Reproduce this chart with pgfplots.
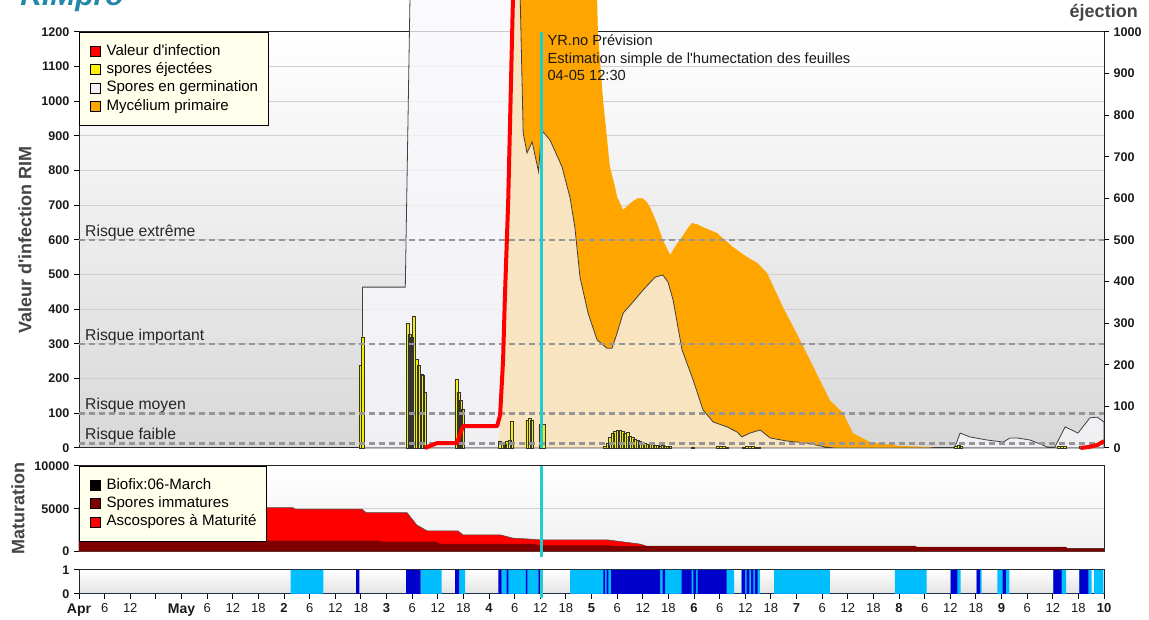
\documentclass[border=0pt]{standalone}
\usepackage{fontspec}
\setmainfont{Liberation Sans}
\usepackage{pgfplots}
\pgfplotsset{compat=1.18}
\definecolor{legbg}{RGB}{255,255,236}
\definecolor{germfill}{RGB}{248,247,252}
\definecolor{myc}{RGB}{255,165,0}
\definecolor{cyanline}{RGB}{32,204,204}
\definecolor{darkred}{RGB}{128,0,0}
\definecolor{lblue}{RGB}{0,191,255}
\definecolor{dblue}{RGB}{0,0,205}
\definecolor{risk}{RGB}{150,150,150}
\definecolor{gridc}{RGB}{208,208,208}
\definecolor{logo}{RGB}{38,134,170}
\definecolor{labc}{RGB}{68,68,68}
\definecolor{tickc}{RGB}{26,26,26}
\definecolor{bgbot}{RGB}{216,216,216}
\definecolor{bgbotb}{RGB}{240,240,240}
\definecolor{bgbotc}{RGB}{226,226,226}
\definecolor{baryel}{RGB}{240,240,0}
\newcommand{\q}{\textquotesingle}
\tikzset{
  risklab/.style={anchor=base west, inner sep=0pt, font=\fontsize{11.8}{12}\selectfont, text=black!85},
  infolab/.style={anchor=base west, inner sep=0pt, font=\fontsize{11}{12}\selectfont, text=black!90},
}
\pgfplotsset{
  layers/mylayers/.define layer set={axis background,axis grid,main,axis ticks,axis lines,axis tick labels,axis descriptions,axis foreground}{},
  mybase/.style={scale only axis, width=768.75pt, anchor=south west, xmin=0, xmax=240,
    tick align=outside, major tick length=3.75pt, tick style={black, line width=0.75pt},
    axis line style={black!85, line width=0.75pt},
    /pgf/number format/assume math mode=true, /pgf/number format/1000 sep={}, scaled ticks=false,
    yticklabel style={font=\bfseries\fontsize{9.4}{10}\selectfont, text=tickc},
    major grid style={gridc, line width=0.75pt}},
  mylegend/.style={legend style={at={(0,1)}, anchor=north west, draw=black, line width=0.75pt, fill=legbg,
      inner xsep=7.7pt, inner ysep=8.9pt, row sep=3pt, font=\fontsize{11.3}{12}\selectfont,
      nodes={inner sep=0pt, text height=8.3pt, text depth=2.4pt}, cells={anchor=west},
      /tikz/every odd column/.style={column sep=4.5pt}},
    legend image code/.code={\draw[##1] (0pt,-3.75pt) rectangle (7.5pt,3.75pt);}},
  riskline/.style={color=risk, line width=1.8pt, dash pattern=on 4.5pt off 3pt, forget plot},
}
\begin{document}
\begin{tikzpicture}
% ---------------- main panel ----------------
\begin{axis}[mybase, mylegend, at={(59.25pt,129pt)}, height=312pt, ymin=0, ymax=1200, clip=false,
  set layers=mylayers,
  axis background/.style={top color=white, bottom color=bgbot},
  ytick={0,100,...,1200}, xtick=\empty, ytick pos=left, ymajorgrids,
  ylabel={Valeur d\q infection RIM},
  ylabel style={at={(axis description cs:-0.0527,0.5)}, anchor=center, font=\bfseries\fontsize{13.5}{14}\selectfont, text=labc}]
% Mycelium primaire
\addplot[fill=myc, draw=none, forget plot] coordinates {
(98.2,0)(98.7,95)(99.4,254)(99.8,427)(100.6,715)(101.7,1300)(121.3,1300)(121.5,1197)(122.7,1004)(123.6,897)
(124.3,811)(125.5,753)(126.0,724)(127.4,687)(128.5,700)(129.7,712)(130.8,720)(131.8,721)(132.8,712)(133.7,695)(135.3,649)(136.7,600)(138.4,557)
(139.8,585)(141.2,609)(142.4,632)(143.5,649)(144.8,645)(146.1,637)(149.4,620)(153.1,580)(156.4,551)(158.8,534)(161.1,505)(164.8,407)(168.8,312)
(172.3,225)(175.8,138)(178.9,101)(181.2,43)(185.2,17)(192.2,6)(198.6,3)(200.4,0)} \closedcycle;
% Spores en germination
\addplot[fill=germfill, fill opacity=0.77, draw=black!75, line width=0.6pt, forget plot] coordinates {
(66.3,0)(66.4,464)(76.4,464)(77.5,1300)(103.3,1300)(104.0,909)(104.9,851)(106.1,883)(107.6,797)(108.3,917)
(110.3,888)(113.1,811)(115.0,721)(116.1,637)(117.3,493)(119.2,389)(121.3,312)(123.6,288)(124.8,288)(126.0,332)
(127.4,389)(129.5,418)(132.1,456)(134.9,493)(136.7,499)(137.9,479)(139.1,427)(141.2,283)(143.8,196)(146.1,110)
(148.5,75)(151.7,61)(154.1,46)(155.2,32)(157.1,43)(159.5,52)(161.8,29)(165.8,20)(170.5,14)(174.7,3)(177.0,0)
(203.9,0)(205.1,3)(206.3,43)(208.6,32)(212.6,23)(216.4,17)(218.0,29)(219.6,29)(222.7,23)(226.7,3)(228.5,3)
(230.9,61)(233.9,43)(236.7,87)(238.4,89)(240,75)} \closedcycle;
% spores ejectees
\addplot[ybar, bar width=2.2pt, fill=baryel, draw=black!80, line width=0.25pt, forget plot] coordinates {
(65.84,239)(66.45,321)(76.99,360)(77.48,329)(77.90,321)(78.44,381)(78.98,256)(79.54,239)(80.13,212)(80.57,210)
(81.01,160)(88.32,198)(88.81,160)(89.33,137)(89.87,113)(98.51,21)(99.09,15)(99.63,12)(100.22,21)(100.80,23)
(101.39,78)(104.94,81)(105.48,86)(106.00,81)(108.04,68)(108.72,68)(123.16,6)(123.75,15)(124.33,30)(124.92,42)
(125.50,48)(126.09,50)(126.67,50)(127.26,48)(127.84,42)(128.43,45)(129.02,35)(129.60,30)(130.19,25)(130.77,22)
(131.36,20)(131.94,15)(132.53,14)(133.11,12)(133.70,10)(134.28,10)(134.87,8)(135.45,8)(136.04,6)(136.63,7)
(137.21,5)(137.80,6)(138.38,4)(143.77,3)(149.62,4)(150.32,5)(151.02,4)(151.73,3)(155.71,3)(156.41,4)
(157.11,5)(157.81,4)(158.52,3)(159.22,3)(205.35,6)(205.93,8)(206.52,6)(229.46,6)(230.17,5)(230.87,6)
(234.61,5)(235.32,5)};
% risk levels
\addplot[riskline] coordinates {(0,600)(240,600)};
\addplot[riskline] coordinates {(0,300)(240,300)};
\addplot[riskline] coordinates {(0,100)(240,100)};
\addplot[riskline] coordinates {(0,13)(240,13)};
% Valeur d'infection
\addplot[red, line width=3pt, line join=round, forget plot] coordinates {
(81.0,0)(83.8,14)(88.5,14)(89.9,63)(97.9,63)(98.6,95)(99.3,254)(99.7,427)(100.5,715)(101.6,1292)(101.8,1350)};
\addplot[red, line width=3pt, line join=round, forget plot] coordinates {(234.5,0)(236.5,3)(238.5,9)(240,20)};
% now line
\addplot[cyanline, line width=2.25pt, forget plot] coordinates {(108.3,0)(108.3,1200)};
\node[risklab] at (axis cs:1.4,611) {Risque extrême};
\node[risklab] at (axis cs:1.4,311) {Risque important};
\node[risklab] at (axis cs:1.4,111) {Risque moyen};
\node[risklab] at (axis cs:1.4,25) {Risque faible};
\node[infolab] at (axis cs:109.65,1159.6) {YR.no Prévision};
\node[infolab] at (axis cs:109.65,1109.1) {Estimation simple de l\q humectation des feuilles};
\node[infolab] at (axis cs:109.65,1058.7) {04-05 12:30};
\addlegendimage{fill=red, draw=black, line width=0.6pt}
\addlegendentry{Valeur d\q infection}
\addlegendimage{fill=yellow, draw=black, line width=0.6pt}
\addlegendentry{spores éjectées}
\addlegendimage{fill=black!5, draw=black, line width=0.6pt}
\addlegendentry{Spores en germination}
\addlegendimage{fill=myc, draw=black, line width=0.6pt}
\addlegendentry{Mycélium primaire}
\end{axis}
% right axis
\begin{axis}[mybase, at={(59.25pt,129pt)}, height=312pt, ymin=0, ymax=1000,
  axis x line=none, axis y line*=right, ytick={0,100,...,1000}, xtick=\empty]
\addplot[draw=none, forget plot] coordinates {(0,0)(240,1000)};
\end{axis}
% ---------------- maturation panel ----------------
\begin{axis}[mybase, mylegend, at={(59.25pt,51.375pt)}, height=64.125pt, ymin=0, ymax=10000, clip=false,
  axis background/.style={top color=white, bottom color=bgbotb},
  ytick={0,5000,10000}, xtick=\empty, ytick pos=left, ymajorgrids,
  ylabel={Maturation},
  ylabel style={at={(axis description cs:-0.0595,0.5)}, anchor=center, font=\bfseries\fontsize{13.5}{14}\selectfont, text=labc}]
\addplot[fill=red, draw=black!70, line width=0.4pt, forget plot] coordinates {
(0,5130)(50.1,5130)(50.6,4950)(66.3,4950)(67.2,4550)(76.8,4550)(79.1,3100)(81.5,2415)(88.7,2415)(89.9,1950)
(98.6,1950)(101.6,1560)(105.6,1450)(107.9,1365)(123.6,1365)(126.7,1170)(131.4,865)(133,620)(195.7,620)
(196.2,510)(231,510)(231.5,350)(240,350)} \closedcycle;
\addplot[fill=darkred, draw=none, forget plot] coordinates {
(0,1280)(70,1280)(71,1150)(83.5,1150)(84.5,900)(106.8,900)(107.5,720)(124.5,720)(125.3,620)(195.7,620)
(196.2,510)(231,510)(231.5,350)(240,350)} \closedcycle;
\addplot[cyanline, line width=2.25pt, forget plot] coordinates {(108.3,-700)(108.3,10000)};
\addlegendimage{fill=black, draw=black, line width=0.6pt}
\addlegendentry{Biofix:06-March}
\addlegendimage{fill=darkred, draw=black, line width=0.6pt}
\addlegendentry{Spores immatures}
\addlegendimage{fill=red, draw=black, line width=0.6pt}
\addlegendentry{Ascospores à Maturité}
\end{axis}
% ---------------- wetness panel ----------------
\begin{axis}[mybase, at={(59.25pt,19.5pt)}, height=18pt, ymin=0, ymax=1, clip=false,
  axis background/.style={top color=white, bottom color=bgbotc},
  ytick={0,1}, tick pos=left, xtick={0,6,...,240},
  xticklabels={{\fontsize{10.5}{12}\selectfont\bfseries Apr},6,12,{},{\fontsize{10.5}{12}\selectfont\bfseries May},6,12,18,\textbf{2},6,12,18,\textbf{3},6,12,18,\textbf{4},6,12,18,\textbf{5},6,12,18,\textbf{6},6,12,18,\textbf{7},6,12,18,\textbf{8},6,12,18,\textbf{9},6,12,18,\textbf{10}},
  xticklabel style={font=\fontsize{9.75}{11}\selectfont, text=tickc}]
\addplot[const plot, fill=lblue, draw=none, forget plot] coordinates {
(0,0)(49.57,1)(57.20,0)(80.01,1)(84.92,0)(88.98,1)(90.38,0)(98.97,1)(107.54,0)(114.97,1)(153.37,0)
(155.17,1)(159.45,0)(162.73,1)(175.84,0)(191.06,1)(198.48,0)(204.11,1)(206.45,0)(210.19,1)(211.36,0)
(215.02,1)(217.83,0)(228.13,1)(231.10,0)(234.22,1)(237.12,0)(237.66,1)(239.84,0)(240,0)} \closedcycle;
\addplot[const plot, fill=dblue, draw=none, forget plot] coordinates {
(0,0)(64.86,1)(65.63,0)(76.57,1)(80.01,0)(88.04,1)(88.98,0)(98.18,1)(98.97,0)(100.14,1)(100.52,0)
(104.66,1)(104.97,0)(107.54,1)(108.11,0)(122.76,1)(123.16,0)(123.56,1)(123.93,0)(124.57,1)(136.04,0)
(136.67,1)(137.21,0)(141.12,1)(143.46,0)(143.84,1)(144.47,0)(144.87,1)(151.66,0)(155.17,1)(155.94,0)
(156.34,1)(156.95,0)(157.35,1)(157.89,0)(158.28,1)(158.91,0)(204.11,1)(205.65,0)(210.19,1)(210.97,0)
(216.28,1)(217.05,0)(228.13,1)(230.10,0)(234.22,1)(236.33,0)(240,0)} \closedcycle;
\addplot[cyanline, line width=2.25pt, forget plot] coordinates {(108.3,-0.17)(108.3,1)};
\end{axis}
\node[anchor=base east, inner sep=0pt, font=\bfseries\fontsize{13.5}{14}\selectfont, text=labc] at (853.5pt,452pt) {éjection};
\node[anchor=base west, inner sep=0pt, font=\bfseries\itshape\fontsize{22.5}{23}\selectfont, text=logo] at (15pt,460.5pt) {RIMpro};
\pgfresetboundingbox
\useasboundingbox (0,0) rectangle (861.75pt,465pt);
\end{tikzpicture}
\end{document}
